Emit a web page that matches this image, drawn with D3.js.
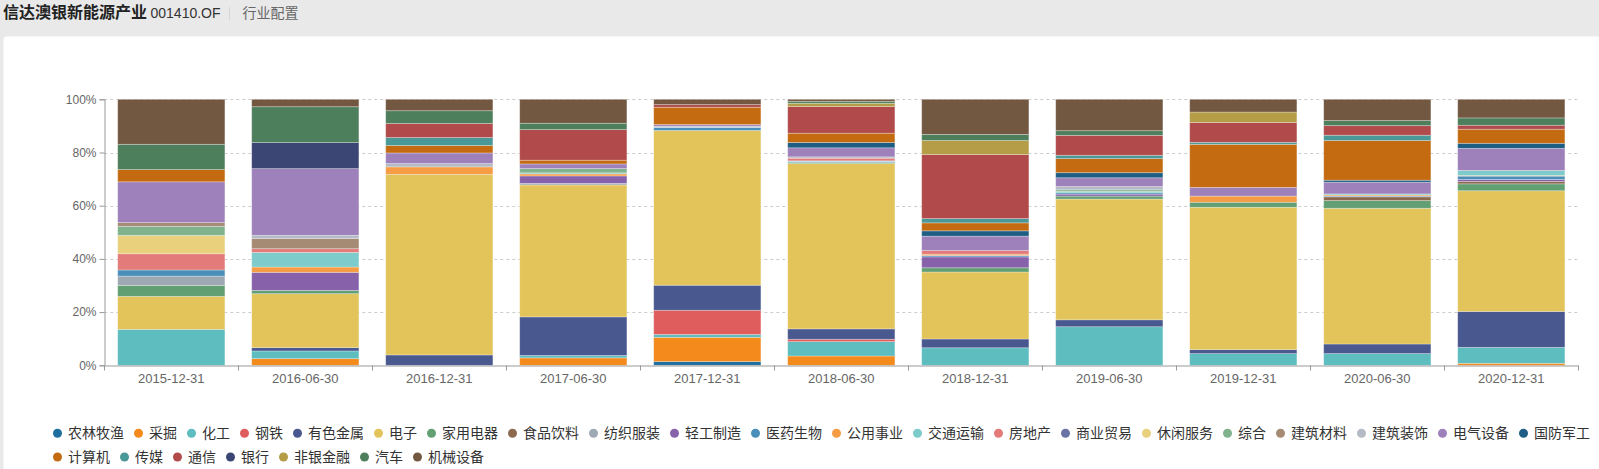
<!DOCTYPE html>
<html>
<head>
<meta charset="utf-8">
<script src="https://cdn.jsdelivr.net/npm/d3@7/dist/d3.min.js"></script>
<style>
  html, body { margin: 0; padding: 0; background: #e9e9e9; }
  svg { display: block; }
  text { font-family: "Liberation Sans", Arial, "Noto Sans CJK SC", sans-serif; }
</style>
</head>
<body>
<svg id="chart" width="1599" height="469"></svg>
<script>
// ---------- data ----------
const categories = ["2015-12-31","2016-06-30","2016-12-31","2017-06-30","2017-12-31","2018-06-30","2018-12-31","2019-06-30","2019-12-31","2020-06-30","2020-12-31"];
const seriesNames = ["农林牧渔","采掘","化工","钢铁","有色金属","电子","家用电器","食品饮料","纺织服装","轻工制造","医药生物","公用事业","交通运输","房地产","商业贸易","休闲服务","综合","建筑材料","建筑装饰","电气设备","国防军工","计算机","传媒","通信","银行","非银金融","汽车","机械设备"];
const seriesColors = ["#1f6f9e","#f48a1c","#5dbdbf","#e05d5d","#4a5890","#e3c45a","#62a073","#8c6a4f","#9ea9b4","#8762ab","#4a8fb9","#f59c44","#7ecbcb","#e47b7b","#6a73a6","#e8d07c","#80b38d","#a68b74","#b4bbc4","#9e80bb","#1e5e85","#c46b12","#4a9898","#b14b4b","#3c4674","#b49d46","#4e7f5c","#735841"];
const yTickLabels = ["0%","20%","40%","60%","80%","100%"];

const agriculture        = [0,   0,    0,    0,    1.4, 0,    0,    0,    0,    0,    0];
const mining             = [0,   2.5,  0,    2.8,  9.1, 3.5,  0,    0,    0,    0,    0.75];
const chemicals          = [13.5,2.9,  0,    0.9,  1.1, 5.4,  6.6,  14.5, 4.4,  4.4,  6.0];
const steel              = [0,   0,    0,    0,    9.1, 0.9,  0,    0,    0,    0,    0];
const nonferrous         = [0,   1.25, 3.9,  14.5, 9.4, 3.9,  3.3,  2.6,  1.5,  3.6,  13.5];
const electronics        = [12.4,20.3, 68.0, 49.6, 58.2,62.2, 25.2, 45.4, 53.6, 51.0, 45.4];
const appliances         = [4.1, 1.25, 0,    0,    0,   0.4,  1.6,  1.1,  1.9,  2.9,  2.6];
const foodBeverage       = [0,   0,    0,    0,    0,   0,    0,    0,    0,    1.4,  0.9];
const textiles           = [3.5, 0,    0,    0.6,  0,   0,    0,    0,    0,    0,    0];
const lightManufacturing = [0,   6.8,  0,    2.8,  0,   0,    4.1,  0.75, 0,    0,    0.75];
const pharma             = [2.3, 0,    0,    0,    1.1, 0.3,  0.5,  0.5,  0,    0.3,  1.25];
const utilities          = [0,   2.0,  2.8,  0.75, 0,   0,    0.5,  0,    2.3,  0.4,  0.25];
const transport          = [0,   5.5,  0,    0.4,  0,   0.3,  0,    0.5,  0,    0.4,  1.9];
const realEstate         = [6.1, 1.4,  0,    0,    0,   1.0,  1.4,  0,    0,    0,    0];
const commerce           = [0,   0,    0,    0,    0,   0,    0,    0,    0,    0,    0];
const leisure            = [6.9, 0,    0,    0,    0,   0,    0,    0,    0,    0,    0];
const conglomerate       = [3.4, 0,    0,    1.6,  0,   0,    0,    0.6,  0,    0,    0];
const buildingMaterials  = [1.4, 3.8,  0,    0,    0,   0,    0,    0,    0,    0,    0];
const buildingDecoration = [0,   1.25, 1.25, 0,    0.5, 0.5,  0,    1.25, 0,    0,    0];
const electricalEquip    = [15.3,25.1, 4.0,  1.75, 0.6, 3.4,  5.4,  3.3,  3.3,  4.4,  8.3];
const defense            = [0,   0,    0,    0,    0,   2.0,  2.0,  1.9,  0,    0.75, 1.9];
const computers          = [4.6, 0,    2.8,  1.4,  6.5, 3.5,  3.0,  5.3,  16.2, 14.9, 5.3];
const media              = [0,   0,    3.0,  0,    0,   0,    1.6,  1.25, 0.75, 2.0,  0];
const telecom            = [0,   0,    5.3,  11.5, 1.0, 10.0, 24.1, 7.5,  7.5,  3.6,  1.5];
const banks              = [0,   9.8,  0,    0,    0,   0,    0,    0,    0,    0,    0];
const nonBankFinance     = [0,   0,    0,    0,    0,   1.25, 5.3,  0,    3.9,  0,    0];
const autos              = [9.5, 13.5, 4.8,  2.4,  0,   0.75, 2.3,  1.75, 0,    1.9,  2.75];
const machinery          = [16.9,2.8,  4.3,  9.0,  2.0, 0.75, 13.2, 11.8, 4.8,  8.0,  7.0];

const seriesValues = [agriculture, mining, chemicals, steel, nonferrous, electronics, appliances, foodBeverage, textiles, lightManufacturing, pharma, utilities, transport, realEstate, commerce, leisure, conglomerate, buildingMaterials, buildingDecoration, electricalEquip, defense, computers, media, telecom, banks, nonBankFinance, autos, machinery];

// ---------- build table ----------
const table = categories.map((c, i) => {
  const row = { date: c };
  seriesNames.forEach((n, s) => { row[n] = seriesValues[s][i]; });
  return row;
});

const svg = d3.select("#chart");

// background card
svg.append("rect").attr("x", 3.5).attr("y", 36.5).attr("width", 1600).attr("height", 440)
  .attr("rx", 3).attr("fill", "#ffffff");

// header
svg.append("text").attr("x", 3).attr("y", 18).attr("font-size", 16).attr("font-weight", "bold")
  .attr("fill", "#222").text("信达澳银新能源产业");
svg.append("text").attr("x", 150.5).attr("y", 18).attr("font-size", 14).attr("fill", "#333").text("001410.OF");
svg.append("line").attr("x1", 229.5).attr("x2", 229.5).attr("y1", 7).attr("y2", 20).attr("stroke", "#d6d6d6");
svg.append("text").attr("x", 242.5).attr("y", 18).attr("font-size", 14).attr("fill", "#666").text("行业配置");

// scales
const x = d3.scaleBand().domain(categories).range([104.3, 1578.3]).paddingInner(0.2).paddingOuter(0.1);
const y = d3.scaleLinear().domain([0, 1]).range([365.3, 99.3]);

const stack = d3.stack().keys(seriesNames).offset(d3.stackOffsetExpand);
const stacked = stack(table);

// grid
const gridVals = [0.2, 0.4, 0.6, 0.8, 1.0];
svg.append("g").selectAll("line").data(gridVals).join("line")
  .attr("x1", 104.3).attr("x2", 1578.3)
  .attr("y1", d => Math.round(y(d)) + 0.5).attr("y2", d => Math.round(y(d)) + 0.5)
  .attr("stroke", "#cccccc").attr("stroke-dasharray", "3,3");

// bars
const layers = svg.append("g").selectAll("g").data(stacked).join("g")
  .attr("fill", (d, i) => seriesColors[i]);
layers.selectAll("rect").data(d => d.filter(p => p[1] - p[0] > 0)).join("rect")
  .attr("x", d => x(d.data.date))
  .attr("width", x.bandwidth())
  .attr("y", d => y(d[1]))
  .attr("height", d => y(d[0]) - y(d[1]))
  .attr("stroke", "rgba(255,255,255,0.35)")
  .attr("stroke-width", 0.8);

// y axis
const yAxis = d3.axisLeft(y).tickValues([0, 0.2, 0.4, 0.6, 0.8, 1.0])
  .tickFormat((d, i) => yTickLabels[i]).tickSize(5).tickPadding(3);
const gy = svg.append("g").attr("transform", "translate(104.5,0)").call(yAxis);
gy.select(".domain").attr("stroke", "#999");
gy.selectAll(".tick line").attr("stroke", "#999");
gy.selectAll(".tick text").attr("fill", "#666").attr("font-size", 12)
  .attr("font-family", "Liberation Sans, Arial, sans-serif");

// x axis
const xAxis = d3.axisBottom(x).tickSize(0).tickPadding(8);
const gx = svg.append("g").attr("transform", "translate(0,365.5)").call(xAxis);
gx.select(".domain").attr("stroke", "#999");
gx.selectAll(".tick text").attr("fill", "#666").attr("font-size", 13)
  .attr("font-family", "Liberation Sans, Arial, sans-serif");
// boundary ticks
const bounds = categories.map(c => x(c) - x.step() * x.paddingInner() / 2).concat([1578.3]);
gx.append("g").selectAll("line").data(bounds).join("line")
  .attr("x1", d => Math.round(d) + 0.5).attr("x2", d => Math.round(d) + 0.5)
  .attr("y1", 0).attr("y2", 5).attr("stroke", "#999");

// legend
const legend = svg.append("g").attr("font-size", 14);
let lx = 53, ly = 433.3;
seriesNames.forEach((name, i) => {
  if (i === 21) { lx = 53; ly = 457; }
  const g = legend.append("g");
  g.append("circle").attr("cx", lx + 4.5).attr("cy", ly).attr("r", 4.5).attr("fill", seriesColors[i]);
  const t = g.append("text").attr("x", lx + 15).attr("y", ly).attr("dy", "0.36em")
    .attr("fill", "#333").attr("font-family", "Noto Sans CJK SC, sans-serif").text(name);
  const w = t.node().getComputedTextLength();
  lx += 15 + w + 10;
});
</script>
</body>
</html>
